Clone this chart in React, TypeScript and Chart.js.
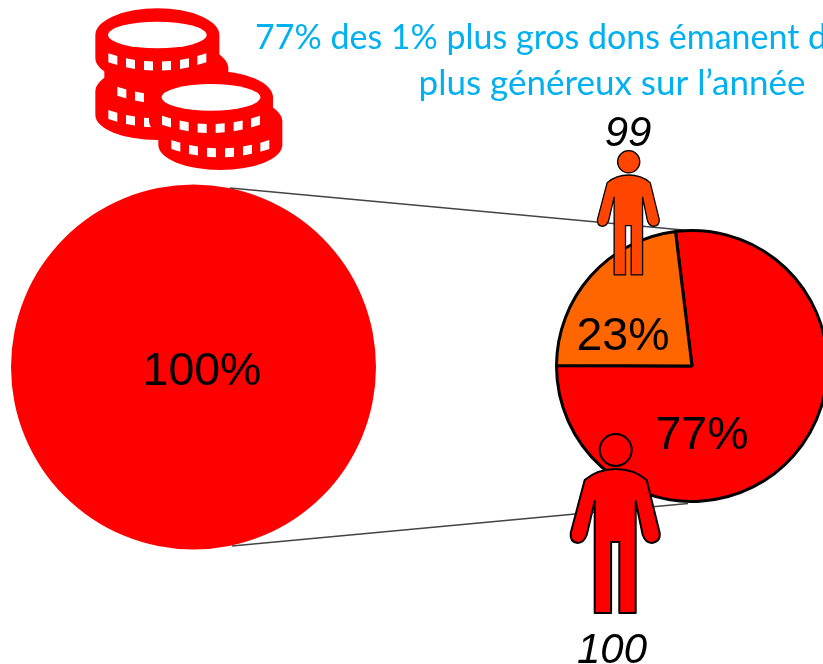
import React, { useEffect, useRef } from "react";
import { Chart, registerables } from "chart.js";

Chart.register(...registerables);

const totalLabels = ["Total"];
const totalValues = [100];
const totalColors = ["#FF0000"];
const splitLabels = ["100", "99"];
const splitValues = [77, 23];
const splitColors = ["#FF0000", "#FF6600"];
const titleLines = ["77% des 1% plus gros dons émanent d", "plus généreux sur l’année"];
const personLabels = ["99", "100"];

const WIDTH = 830;
const HEIGHT = 664;
const PCT_FONT = "46.5px 'Liberation Sans'";
const ITALIC_FONT = "italic 42px 'Liberation Sans'";

function drawPerson(ctx: CanvasRenderingContext2D, cx: number, top: number, s: number, fill: string, lw: number) {
  ctx.save();
  ctx.translate(cx, top);
  ctx.scale(s, s);
  ctx.fillStyle = fill;
  ctx.strokeStyle = "#000";
  ctx.lineWidth = lw / s;
  ctx.lineJoin = "round";
  ctx.beginPath();
  ctx.arc(0, 16, 16, 0, Math.PI * 2);
  ctx.fill();
  ctx.stroke();
  ctx.beginPath();
  ctx.moveTo(-31, 46);
  ctx.quadraticCurveTo(-18, 35, 0, 35);
  ctx.quadraticCurveTo(18, 35, 31, 46);
  ctx.lineTo(44, 99);
  ctx.quadraticCurveTo(45, 108, 36, 109);
  ctx.quadraticCurveTo(30, 109, 27, 101);
  ctx.lineTo(20, 67);
  ctx.lineTo(20, 179);
  ctx.lineTo(3.6, 179);
  ctx.lineTo(3.6, 108);
  ctx.lineTo(-4.6, 108);
  ctx.lineTo(-4.6, 179);
  ctx.lineTo(-21, 179);
  ctx.lineTo(-21, 67);
  ctx.lineTo(-29, 101);
  ctx.quadraticCurveTo(-32, 109, -38, 109);
  ctx.quadraticCurveTo(-46, 108, -45, 99);
  ctx.closePath();
  ctx.fill();
  ctx.stroke();
  ctx.restore();
}

function drawCoin(ctx: CanvasRenderingContext2D, dx: number, dy: number, withFace: boolean) {
  ctx.save();
  ctx.translate(80 + dx / 3, dy / 3);
  ctx.scale(1 / 3, 1 / 3);
  const cx = 232;
  ctx.fillStyle = "#FF0000";
  ctx.beginPath();
  ctx.moveTo(cx - 186, 175);
  ctx.lineTo(cx - 186, 105);
  ctx.ellipse(cx, 105, 186, 80, 0, Math.PI, 2 * Math.PI);
  ctx.lineTo(cx + 186, 175);
  ctx.ellipse(cx, 175, 186, 75, 0, 0, Math.PI);
  ctx.closePath();
  ctx.fill();
  ctx.fillStyle = "#FFFFFF";
  if (withFace) {
    ctx.beginPath();
    ctx.ellipse(cx, 105, 148, 40, 0, 0, Math.PI * 2);
    ctx.fill();
  }
  const curve = (x: number) => 185 - 25 * ((x - cx) / 147) ** 2;
  const starts = [-147, -94, -40, 14, 68, 120];
  starts.forEach((s) => {
    const x0 = cx + s;
    const x1 = x0 + 27;
    ctx.beginPath();
    ctx.moveTo(x0, curve(x0));
    ctx.lineTo(x1, curve(x1));
    ctx.lineTo(x1, curve(x1) + 27);
    ctx.lineTo(x0, curve(x0) + 27);
    ctx.closePath();
    ctx.fill();
  });
  ctx.restore();
}

const overlayPlugin = {
  id: "overlay",
  beforeDatasetsDraw(chart: any) {
    const ctx: CanvasRenderingContext2D = chart.ctx;
    ctx.save();
    ctx.strokeStyle = "#444";
    ctx.lineWidth = 1.5;
    ctx.beginPath();
    ctx.moveTo(230, 188);
    ctx.lineTo(683, 230);
    ctx.moveTo(232, 546);
    ctx.lineTo(688, 503.5);
    ctx.stroke();
    ctx.restore();
  },
  afterDatasetsDraw(chart: any) {
    const ctx: CanvasRenderingContext2D = chart.ctx;
    ctx.save();
    ctx.textBaseline = "alphabetic";
    ctx.textAlign = "center";
    ctx.fillStyle = "#000";
    ctx.font = PCT_FONT;
    ctx.fillText(`${totalValues[0]}%`, 202, 385);
    ctx.fillText(`${splitValues[1]}%`, 623, 350);
    ctx.fillText(`${splitValues[0]}%`, 702, 449);

    drawPerson(ctx, 628.7, 150.7, 0.694, "#FF4500", 1.3);
    drawPerson(ctx, 615.7, 434, 1, "#FF0000", 2);

    ctx.fillStyle = "#000";
    ctx.font = ITALIC_FONT;
    ctx.fillText(personLabels[0], 628, 146);
    ctx.fillText(personLabels[1], 612, 663);

    ctx.fillStyle = "#00B0F0";
    ctx.textAlign = "left";
    ctx.font = "34px Lato";
    ctx.fillText(titleLines[0], 255, 49);
    ctx.textAlign = "center";
    ctx.font = "35px Lato";
    ctx.fillText(titleLines[1], 612, 95);

    drawCoin(ctx, 0, 170, false);
    drawCoin(ctx, 27, 100, false);
    drawCoin(ctx, 0, 0, true);
    drawCoin(ctx, 189, 260, false);
    drawCoin(ctx, 161, 187, true);
    ctx.restore();
  },
};

const baseOptions = {
  responsive: false,
  animation: false as const,
  events: [] as string[],
  plugins: { legend: { display: false }, tooltip: { enabled: false } },
};

export default function App() {
  const totalRef = useRef<HTMLCanvasElement>(null);
  const splitRef = useRef<HTMLCanvasElement>(null);

  useEffect(() => {
    document.body.style.margin = "0";
    const total = new Chart(totalRef.current!, {
      type: "pie",
      data: {
        labels: totalLabels,
        datasets: [{ data: totalValues, backgroundColor: totalColors, borderWidth: 0, hoverOffset: 0, offset: 0 }],
      },
      options: { ...baseOptions, layout: { padding: { left: 11, right: WIDTH - 376, top: 184, bottom: HEIGHT - 550 } } },
    } as any);
    const split = new Chart(splitRef.current!, {
      type: "pie",
      data: {
        labels: splitLabels,
        datasets: [
          {
            data: splitValues,
            backgroundColor: splitColors,
            borderColor: "#000",
            borderWidth: 3,
            borderAlign: "center",
            hoverOffset: 0,
            offset: 0,
          },
        ],
      },
      options: {
        ...baseOptions,
        rotation: -7,
        layout: { padding: { left: 555, right: WIDTH - 829, top: 229, bottom: HEIGHT - 503 } },
      },
      plugins: [overlayPlugin],
    } as any);
    return () => {
      total.destroy();
      split.destroy();
    };
  }, []);

  const canvasStyle: React.CSSProperties = { position: "absolute", left: 0, top: 0, display: "block" };
  return (
    <div style={{ position: "relative", width: 823, height: 664, overflow: "hidden", background: "#fff" }}>
      <canvas ref={totalRef} width={WIDTH} height={HEIGHT} style={canvasStyle} />
      <canvas ref={splitRef} width={WIDTH} height={HEIGHT} style={canvasStyle} />
    </div>
  );
}
